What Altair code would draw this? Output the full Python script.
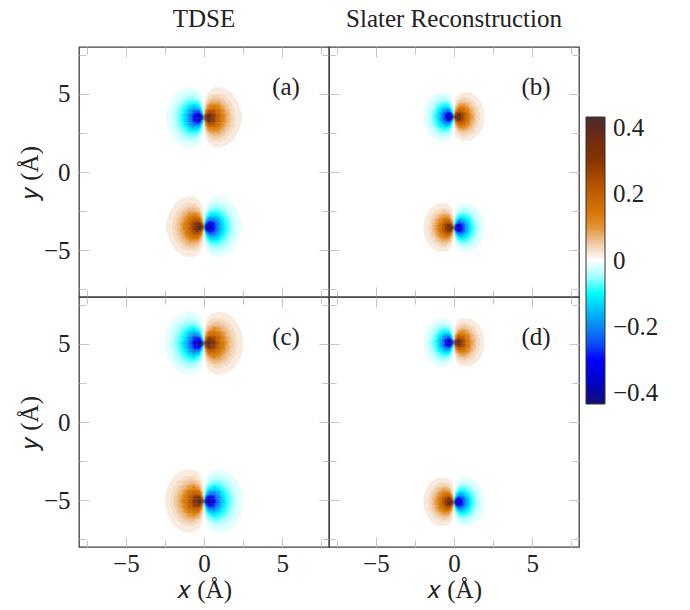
import altair as alt
import numpy as np
import pandas as pd

# ---------------- values ----------------
panel_labels = ["(a)", "(b)", "(c)", "(d)"]
column_titles = ["TDSE", "Slater Reconstruction"]
# |y| position (Å) of the two orbitals in each panel
orbital_offset = [3.5, 3.55, 5.05, 5.1]
# radial length scale (Å) of the orbitals in each panel
orbital_scale = [0.86, 0.70, 0.90, 0.70]
# decay exponent of the radial part
orbital_power = [1.3, 1.3, 1.3, 1.3]
# vertical elongation of the lobes
orbital_stretch = [1.08, 1.08, 1.08, 1.08]
# core softening length (Å)
orbital_core = [0.06, 0.05, 0.06, 0.05]
# amplitude (the colour scale saturates at 0.434)
orbital_amp = [0.64, 0.64, 0.64, 0.64]
# sign of the right-hand lobe for the upper / lower orbital
upper_sign = [1, 1, 1, 1]
lower_sign = [-1, -1, -1, -1]

axis_domain = [-8, 8]
axis_ticks_major = [-5, 0, 5]
axis_ticks_minor = [-7.5, -2.5, 2.5, 7.5]

colorbar_ticks = [-0.4, -0.2, 0, 0.2, 0.4]
colorbar_limit = 0.434
cmap_stops = [-0.434, -0.4, -0.35, -0.3, -0.25, -0.2, -0.15, -0.1, -0.05, -0.02, 0,
              0.02, 0.04, 0.07, 0.1, 0.13, 0.2, 0.25, 0.3, 0.35, 0.4, 0.434]
cmap_colors = ["#12106c", "#0808a0", "#0000d8", "#0000ff", "#0a50f8", "#0a88f0",
               "#00c0f8", "#00ffff", "#a0ffff", "#e4ffff", "#ffffff",
               "#f8ece0", "#f3d8bc", "#ebb57c", "#e29336", "#dc7c00", "#c06000",
               "#a84a00", "#8a3300", "#7a2e0a", "#5c2a1e", "#4a2e2e"]
contour_step = 0.0145
grid_step = 0.08

# ---------------- styling ----------------
PANEL = 250
FONT = "Liberation Serif"
TEXT = "#222222"
TICK = "#c4c4c4"
FRAME = "#404040"
FS = 25


def panel_frame(i):
    L = orbital_scale[i]
    p = orbital_power[i]
    k = orbital_stretch[i]
    c = orbital_core[i]
    A = orbital_amp[i]
    gx = (np.arange(-44, 44) + 0.5) * grid_step
    gyo = (np.arange(-31, 31) + 0.5) * grid_step
    parts = []
    for yc, s in [(orbital_offset[i], upper_sign[i]), (-orbital_offset[i], lower_sign[i])]:
        X, DY = np.meshgrid(gx, gyo)
        r = np.hypot(X, DY / k)
        v = s * A * X / (r + c) * np.exp(-((r / L) ** p))
        lvl = np.floor(np.abs(v) / contour_step)
        keep = lvl >= 1
        q = np.sign(v) * np.minimum((lvl + 0.5) * contour_step, colorbar_limit)
        parts.append(pd.DataFrame({"x": X[keep], "y": (DY + yc)[keep], "v": q[keep]}))
    df = pd.concat(parts, ignore_index=True)
    h = grid_step * 0.65
    df["x1"] = (df["x"] - h).round(3)
    df["x2"] = (df["x"] + h).round(3)
    df["y1"] = (df["y"] - h).round(3)
    df["y2"] = (df["y"] + h).round(3)
    df["v"] = df["v"].round(4)
    return df[["x1", "x2", "y1", "y2", "v"]]


xs = alt.Scale(domain=axis_domain, nice=False, zero=False)
ys = alt.Scale(domain=axis_domain, nice=False, zero=False)
cscale = alt.Scale(domain=cmap_stops, range=cmap_colors, interpolate="rgb")

minus_expr = "datum.value < 0 ? '\u2212' + format(-datum.value, 'd') : format(datum.value, 'd')"
cbar_expr = ("datum.value == 0 ? '0' : (datum.value < 0 ? '\u2212' + format(-datum.value, '.1f')"
             " : format(datum.value, '.1f'))")

legend = alt.Legend(
    orient="none", legendX=507, legendY=70, direction="vertical", type="gradient",
    gradientLength=287, gradientThickness=19, values=colorbar_ticks, labelExpr=cbar_expr,
    labelFont=FONT, labelFontSize=FS, labelColor=TEXT, labelOffset=8,
    gradientStrokeColor="#333333", gradientStrokeWidth=1, title=None,
)


def label_axis(show, orient):
    if not show:
        return None
    common = dict(values=axis_ticks_major, labelExpr=minus_expr, ticks=False, tickSize=0,
                  domain=False, grid=False, labelFont=FONT, labelFontSize=FS,
                  labelColor=TEXT, titleFont=FONT, titleFontSize=FS,
                  titleFontWeight="normal", titleColor=TEXT, titleBaseline="alphabetic")
    if orient == "x":
        return alt.Axis(orient="bottom", labelPadding=4, title="𝑥 (Å)",
                        titleX=PANEL / 2, titleY=50, **common)
    return alt.Axis(orient="left", labelPadding=9, title="𝑦 (Å)",
                    titleX=-42, titleY=PANEL / 2, titleAngle=270, **common)


def tick_axis(orient, values, size):
    return alt.Axis(orient=orient, offset=-PANEL, values=values, tickSize=size,
                    tickColor=TICK, tickWidth=1, ticks=True, labels=False,
                    domain=False, grid=False, title=None)


def panel(i, show_x, show_y, title=None):
    df = panel_frame(i)
    heat = alt.Chart(df).mark_rect(strokeWidth=0).encode(
        x=alt.X("x1:Q", scale=xs, axis=label_axis(show_x, "x")),
        x2="x2:Q",
        y=alt.Y("y1:Q", scale=ys, axis=label_axis(show_y, "y")),
        y2="y2:Q",
        color=alt.Color("v:Q", scale=cscale, legend=legend),
    )
    layers = [heat]
    for values, size in [(axis_ticks_major, 10), (axis_ticks_minor, 7)]:
        d = pd.DataFrame({"x": values, "y": values})
        for xo, yo in [("top", "right"), ("bottom", "left")]:
            layers.append(
                alt.Chart(d).mark_point(opacity=0).encode(
                    x=alt.X("x:Q", scale=xs, axis=tick_axis(xo, values, size)),
                    y=alt.Y("y:Q", scale=ys, axis=tick_axis(yo, values, size)),
                )
            )
    lab = alt.Chart(pd.DataFrame({"label": [panel_labels[i]]})).mark_text(
        font=FONT, fontSize=FS, color=TEXT, align="center", baseline="middle"
    ).encode(x=alt.value(207), y=alt.value(40), text="label:N")
    layers.append(lab)
    props = dict(width=PANEL, height=PANEL)
    if title is not None:
        props["title"] = alt.TitleParams(
            text=title, font=FONT, fontSize=FS, fontWeight="normal", color=TEXT,
            anchor="middle", frame="group", offset=-5, baseline="alphabetic")
    return alt.layer(*layers).resolve_axis(x="independent", y="independent").properties(**props)


pa = panel(0, False, True, column_titles[0])
pb = panel(1, False, False, column_titles[1])
pc = panel(2, True, True)
pd_ = panel(3, True, False)

chart = alt.concat(pa, pb, pc, pd_, columns=2, spacing=0, bounds="flush").properties(
    padding={"left": 16, "top": 5, "right": 5, "bottom": 5}
).configure_view(stroke=FRAME, strokeWidth=1.3)

chart.save("out.html", embed_options={"renderer": "svg", "actions": False})
